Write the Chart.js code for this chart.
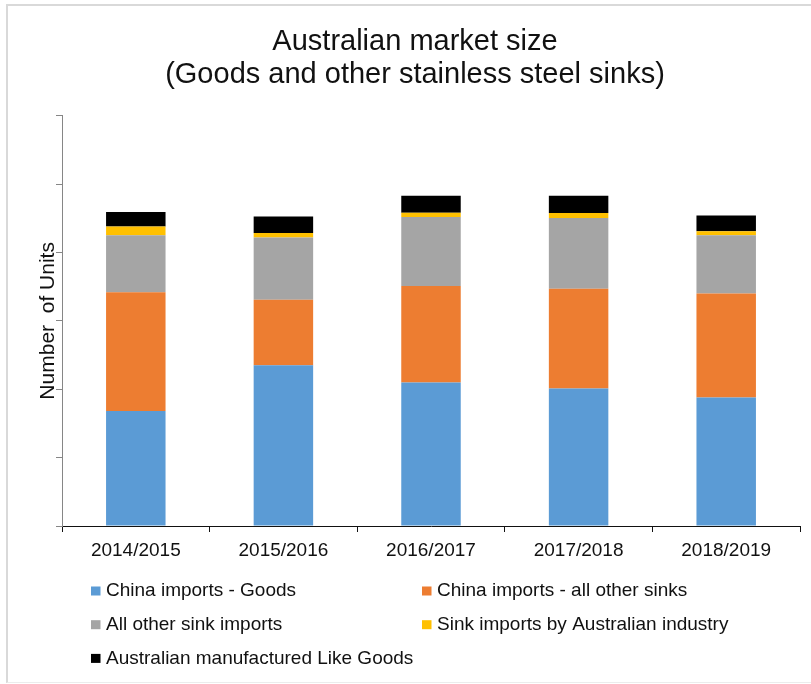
<!DOCTYPE html>
<html>
<head>
<meta charset="utf-8">
<title>Australian market size</title>
<script src="https://cdn.jsdelivr.net/npm/chart.js@4.4.1/dist/chart.umd.min.js"></script>
<style>
  html, body { margin: 0; padding: 0; background: #fff; overflow: hidden; }
  #wrap { position: relative; width: 811px; height: 684px; }
  #frame {
    position: absolute; left: 6px; top: 4px; width: 830px; height: 676px;
    border-left: 2px solid #d9d9d9; border-top: 2px solid #d9d9d9;
    border-bottom: 1px solid #ececec; pointer-events: none;
  }
  canvas { position: absolute; left: 0; top: 0; }
</style>
</head>
<body>
<div id="wrap">
  <canvas id="chart" width="811" height="684"></canvas>
  <div id="frame"></div>
</div>
<script>
// Financial years on the x axis
const years = ["2014/2015", "2015/2016", "2016/2017", "2017/2018", "2018/2019"];

// Stacked series (no units shown on the axis)
const chinaGoods = [1.68, 2.35, 2.10, 2.01, 1.88];
const chinaOther = [1.74, 0.96, 1.41, 1.46, 1.52];
const otherImports = [0.83, 0.91, 1.01, 1.035, 0.85];
const industryImports = [0.13, 0.065, 0.06, 0.073, 0.06];
const ausManufactured = [0.21, 0.24, 0.25, 0.253, 0.23];

const seriesNames = [
  "China imports - Goods",
  "China imports - all other sinks",
  "All other sink imports",
  "Sink imports by Australian industry",
  "Australian manufactured Like Goods"
];
const seriesColors = ["#5b9bd5", "#ed7d31", "#a5a5a5", "#ffc000", "#000000"];
const seriesData = [chinaGoods, chinaOther, otherImports, industryImports, ausManufactured];

const FONT = "'Liberation Sans', Arial, sans-serif";

// Legend laid out as a two column grid under the axis
const gridLegend = {
  id: "gridLegend",
  afterDraw(chart) {
    const ctx = chart.ctx;
    const area = chart.chartArea;
    const colX = [area.left + 29, area.left + 360];
    const rowY = area.bottom + 65;
    const rowGap = 33.7;
    ctx.save();
    ctx.font = "19px " + FONT;
    ctx.textBaseline = "middle";
    ctx.textAlign = "left";
    chart.data.datasets.forEach((ds, i) => {
      const x = colX[i % 2];
      const y = rowY + Math.floor(i / 2) * rowGap;
      ctx.fillStyle = ds.backgroundColor;
      ctx.fillRect(x, y - 4.5, 9.5, 9);
      ctx.fillStyle = "#111";
      ctx.fillText(ds.label, x + 15, y);
    });
    ctx.restore();
  }
};

new Chart(document.getElementById("chart"), {
  type: "bar",
  data: {
    labels: years,
    datasets: seriesData.map((values, i) => ({
      label: seriesNames[i],
      data: values,
      backgroundColor: seriesColors[i],
      borderWidth: 0,
      categoryPercentage: 0.403,
      barPercentage: 1
    }))
  },
  options: {
    responsive: false,
    animation: false,
    layout: { padding: { left: 30, right: 11, top: 20, bottom: 118 } },
    plugins: {
      legend: { display: false },
      tooltip: { enabled: false },
      title: {
        display: true,
        text: ["Australian market size", "(Goods and other stainless steel sinks)"],
        color: "#111",
        font: { family: FONT, size: 29, weight: "normal", lineHeight: 1.15 },
        padding: { top: 5, bottom: 24 }
      }
    },
    scales: {
      x: {
        stacked: true,
        afterFit(scale) { scale.height = 40; },
        border: { color: "#111", width: 1 },
        grid: { drawOnChartArea: false, drawTicks: true, tickLength: 6, color: "#111" },
        ticks: {
          color: "#111",
          padding: 7,
          font: { family: FONT, size: 19 }
        }
      },
      y: {
        stacked: true,
        min: 0,
        max: 6,
        afterFit(scale) { scale.width = 32; },
        border: { color: "#868686", width: 1 },
        grid: { drawOnChartArea: false, drawTicks: true, tickLength: 6, color: "#868686" },
        ticks: { display: false, stepSize: 1 },
        title: {
          display: true,
          text: "Number  of Units",
          color: "#111",
          font: { family: FONT, size: 21 },
          padding: { top: 6, bottom: 0 }
        }
      }
    }
  },
  plugins: [gridLegend]
});
</script>
</body>
</html>
